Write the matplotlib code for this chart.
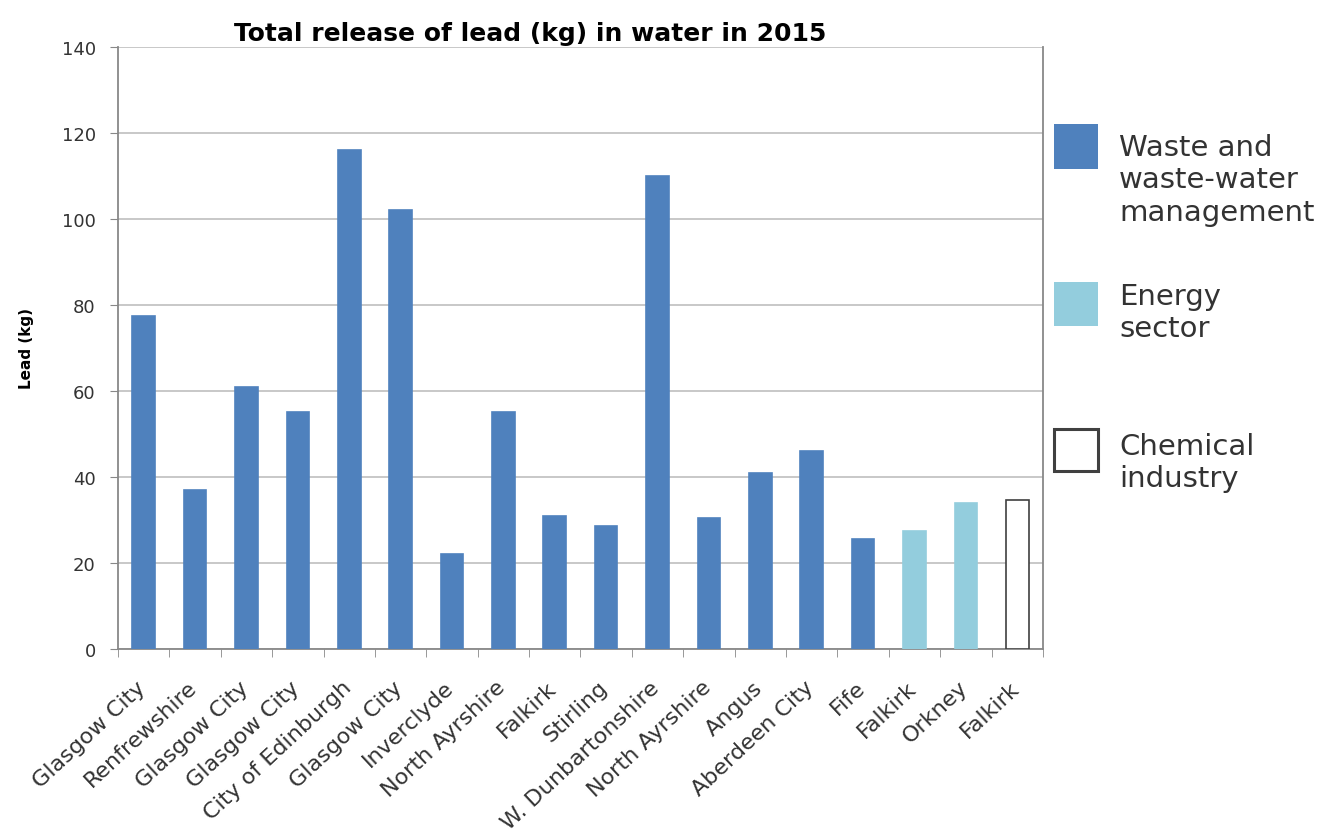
import matplotlib

matplotlib.use("Agg")

import matplotlib.pyplot as plt  # noqa: E402
import matplotlib.transforms as mtransforms  # noqa: E402
import numpy as np  # noqa: E402
from matplotlib.patches import Rectangle  # noqa: E402

# data
locations = [
    "Glasgow City", "Renfrewshire", "Glasgow City", "Glasgow City",
    "City of Edinburgh", "Glasgow City", "Inverclyde", "North Ayrshire",
    "Falkirk", "Stirling", "W. Dunbartonshire", "North Ayrshire",
    "Angus", "Aberdeen City", "Fife", "Falkirk", "Orkney", "Falkirk",
]
lead_kg = [77.5, 37, 61, 55, 116, 102, 22, 55, 31, 28.5, 110, 30.5,
           41, 46, 25.5, 27.5, 34, 34.7]
sectors = ["waste"] * 15 + ["energy"] * 2 + ["chemical"]

sector_labels = {
    "waste": "Waste and\nwaste-water\nmanagement",
    "energy": "Energy\nsector",
    "chemical": "Chemical\nindustry",
}
sector_style = {
    "waste": dict(facecolor="#4F81BD", edgecolor="#4F81BD"),
    "energy": dict(facecolor="#93CDDD", edgecolor="#93CDDD"),
    "chemical": dict(facecolor="white", edgecolor="#404040"),
}

fig = plt.figure(figsize=(13.32, 8.37), dpi=100)
ax = fig.add_axes([0.0886, 0.2234, 0.6944, 0.7193])

x = np.arange(len(locations))
for xi, val, sec in zip(x, lead_kg, sectors):
    ax.bar(xi, val, width=0.44, linewidth=1.2, zorder=3, **sector_style[sec])

ax.set_xlim(-0.5, len(locations) - 0.5)
ax.set_ylim(0, 140)
ax.set_yticks(np.arange(0, 141, 20))
ax.grid(axis="y", color="#C8C8C8", linewidth=1.4, zorder=0)

ax.set_xticks(x)
ax.set_xticklabels(locations, rotation=43, ha="right", rotation_mode="anchor",
                   fontsize=16, color="#333333")
ax.set_xticks(np.arange(-0.5, len(locations)), minor=True)
ax.tick_params(axis="x", which="major", length=0, pad=20)
ax.tick_params(axis="x", which="minor", length=6, color="#888888")
ax.tick_params(axis="y", length=6, color="#888888", labelsize=13,
               labelcolor="#333333", pad=10)

# nudge the rotated labels so their ends sit under the bars
shift = mtransforms.ScaledTranslation(-8 / 100, 0, fig.dpi_scale_trans)
for lbl in ax.get_xticklabels():
    lbl.set_transform(lbl.get_transform() + shift)

for side in ["left", "bottom", "right"]:
    ax.spines[side].set_color("#888888")
    ax.spines[side].set_linewidth(1.3)
ax.spines["top"].set_visible(False)

ax.set_ylabel("Lead (kg)", fontsize=11, fontweight="bold", labelpad=20)
ax.set_title("Total release of lead (kg) in water in 2015", fontsize=18,
             fontweight="bold", pad=5, x=0.446)

# legend drawn by hand so squares line up with the first text line
legend_rows = [("waste", 0.797, 0.054, 0.840),
               ("energy", 0.609, 0.053, 0.662),
               ("chemical", 0.436, 0.050, 0.483)]
for sec, ybox, hbox, ytext in legend_rows:
    style = sector_style[sec]
    fig.patches.append(Rectangle((0.791, ybox), 0.033, hbox,
                                 transform=fig.transFigure,
                                 facecolor=style["facecolor"],
                                 edgecolor="#404040" if sec == "chemical" else style["edgecolor"],
                                 linewidth=2.2 if sec == "chemical" else 0))
    fig.text(0.840, ytext, sector_labels[sec], fontsize=21, color="#333333",
             va="top", ha="left", linespacing=1.2)

fig.savefig("out.png", dpi=100)
plt.close(fig)
